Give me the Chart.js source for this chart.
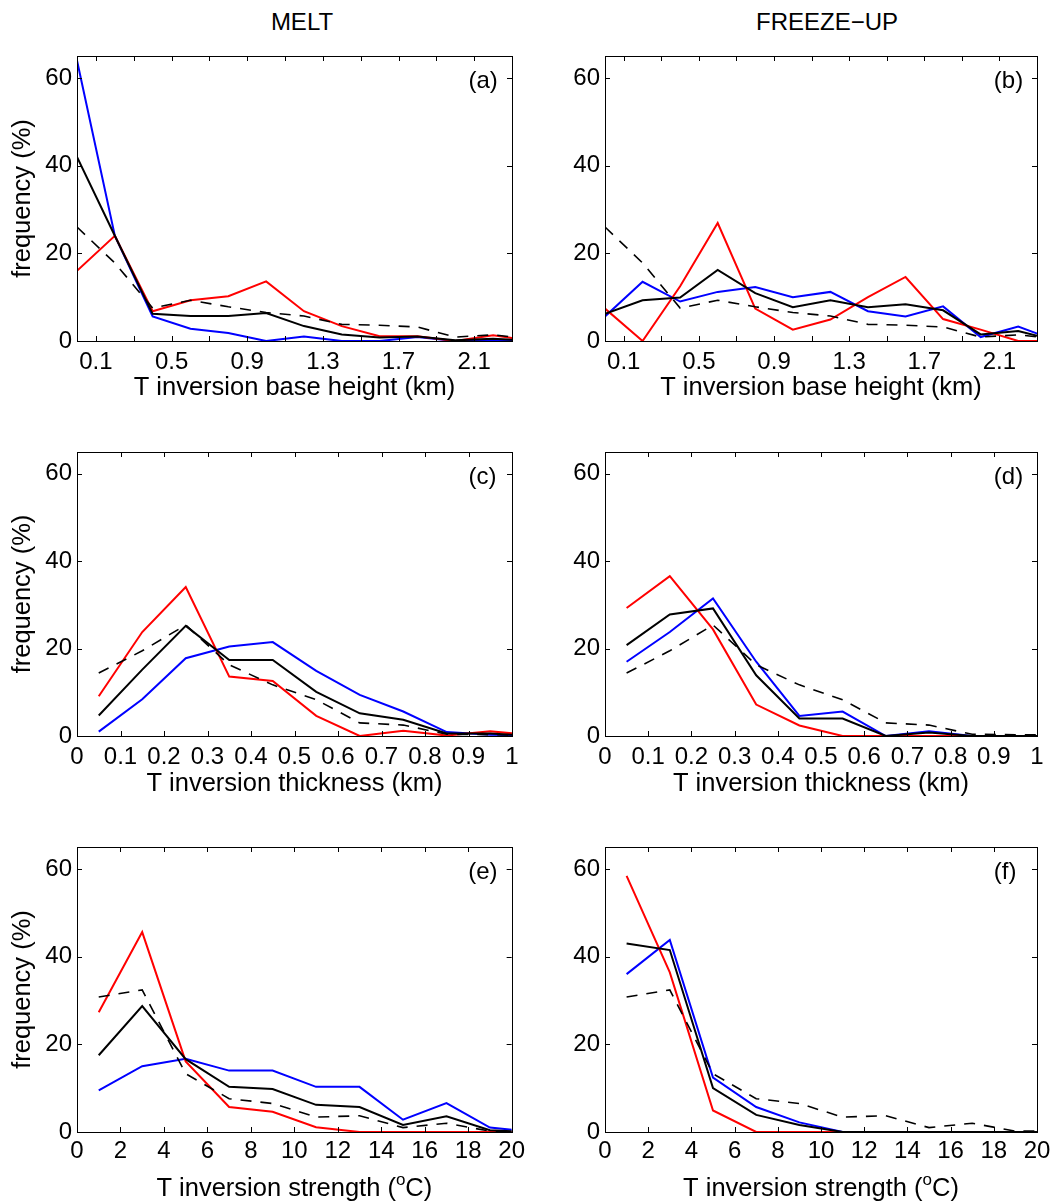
<!DOCTYPE html>
<html><head><meta charset="utf-8">
<script src="https://cdn.jsdelivr.net/npm/chart.js@4/dist/chart.umd.min.js"></script>
<style>
body{margin:0;background:#fff;width:1064px;height:1203px;position:relative;overflow:hidden;font-family:"Liberation Sans",Arial,sans-serif}
canvas{position:absolute}
.ttl{position:absolute;top:8px;height:28px;line-height:28px;font-size:24px;text-align:center;width:300px;color:#000}
</style></head>
<body>
<div class="ttl" style="left:152px">MELT</div>
<div class="ttl" style="left:677px">FREEZE−UP</div>
<canvas id="ca" width="530" height="420" style="left:0;top:0"></canvas>
<canvas id="cb" width="534" height="420" style="left:530px;top:0"></canvas>
<canvas id="cc" width="530" height="400" style="left:0;top:420px"></canvas>
<canvas id="cd" width="534" height="400" style="left:530px;top:420px"></canvas>
<canvas id="ce" width="530" height="383" style="left:0;top:820px"></canvas>
<canvas id="cf" width="534" height="383" style="left:530px;top:820px"></canvas>
<script>
// ---- bin centres ----
const heightX   = [0, 0.2, 0.4, 0.6, 0.8, 1.0, 1.2, 1.4, 1.6, 1.8, 2.0, 2.2, 2.4];
const thickX    = [0.05, 0.15, 0.25, 0.35, 0.45, 0.55, 0.65, 0.75, 0.85, 0.95, 1.05];
const strengthX = [1, 3, 5, 7, 9, 11, 13, 15, 17, 19, 21];

// ---- tick values / labels ----
const freqTicks      = [0, 20, 40, 60];
const heightTicks    = [0.1, 0.3, 0.5, 0.7, 0.9, 1.1, 1.3, 1.5, 1.7, 1.9, 2.1];
const heightLabels   = ['0.1', '', '0.5', '', '0.9', '', '1.3', '', '1.7', '', '2.1'];
const thickTicks     = [0, 0.1, 0.2, 0.3, 0.4, 0.5, 0.6, 0.7, 0.8, 0.9, 1];
const thickLabels    = ['0', '0.1', '0.2', '0.3', '0.4', '0.5', '0.6', '0.7', '0.8', '0.9', '1'];
const strengthTicks  = [0, 2, 4, 6, 8, 10, 12, 14, 16, 18, 20];
const strengthLabels = ['0', '2', '4', '6', '8', '10', '12', '14', '16', '18', '20'];

// ---- (a) melt, base height ----
const meltHeightBlue  = [64, 24, 5.6, 2.8, 1.8, 0, 1.0, 0, 0, 0.9, 0, 0.3, 0.1];
const meltHeightRed   = [16, 24, 6.8, 9.3, 10.2, 13.6, 6.8, 3.4, 1.1, 1.1, 0, 1.3, 0.1];
const meltHeightBlack = [42, 24, 6.2, 5.7, 5.7, 6.4, 3.4, 1.5, 0.8, 1.0, 0.15, 0.5, 0.1];
// ---- (b) freeze-up, base height ----
const freezeHeightBlue  = [5.6, 13.5, 9.0, 11.2, 12.3, 10.0, 11.2, 6.8, 5.6, 7.9, 0.9, 3.3, 0.1];
const freezeHeightRed   = [7.4, 0, 12.5, 26.9, 7.4, 2.6, 4.9, 10, 14.6, 5.0, 2.6, 0, 0];
const freezeHeightBlack = [6.2, 9.3, 9.9, 16.2, 10.9, 7.7, 9.3, 7.7, 8.4, 7.0, 1.5, 2.3, 0.1];
const allHeightDashed   = [26, 17.8, 7.5, 9.3, 7.8, 6.5, 5.7, 3.8, 3.6, 3.2, 0.9, 1.4, 0.5];
// ---- (c) melt, thickness ----
const meltThickBlue  = [1.0, 8.4, 17.8, 20.5, 21.5, 14.9, 9.4, 5.6, 0.9, 0.3, 0.1];
const meltThickRed   = [9.1, 23.8, 34.1, 13.6, 12.6, 4.6, 0, 1.2, 0.1, 1.1, 0.1];
const meltThickBlack = [4.7, 15.2, 25.2, 17.4, 17.4, 10.1, 5.2, 3.7, 0.6, 0.6, 0];
// ---- (d) freeze-up, thickness ----
const freezeThickBlue  = [17.0, 23.8, 31.5, 17.0, 4.6, 5.6, 0, 1.1, 0, 0, 0];
const freezeThickRed   = [29.3, 36.6, 24.4, 7.2, 2.4, 0, 0, 0, 0, 0, 0];
const freezeThickBlack = [20.8, 27.8, 29.2, 13.9, 4.0, 4.0, 0, 0.8, 0, 0, 0];
const allThickDashed   = [14.4, 19.5, 25.4, 16.3, 11.7, 8.3, 3.0, 2.5, 0.4, 0.3, 0.2];
// ---- (e) melt, strength ----
const meltStrBlue  = [9.5, 15.0, 16.7, 14.0, 14.0, 10.3, 10.3, 2.8, 6.6, 1.0, 0];
const meltStrRed   = [27.3, 45.6, 16.1, 5.7, 4.6, 1.1, 0, 0, 0, 0, 0];
const meltStrBlack = [17.5, 28.7, 16.6, 10.3, 9.8, 6.2, 5.7, 1.6, 3.6, 0.4, 0];
// ---- (f) freeze-up, strength ----
const freezeStrBlue  = [36.0, 43.8, 12.4, 5.7, 2.2, 0, 0, 0, 0, 0, 0];
const freezeStrRed   = [58.4, 36.4, 4.9, 0, 0, 0, 0, 0, 0, 0, 0];
const freezeStrBlack = [43.0, 41.5, 10.0, 3.9, 1.6, 0, 0, 0, 0, 0, 0];
const allStrDashed   = [30.8, 32.4, 13.3, 7.6, 6.5, 3.4, 3.7, 1.0, 2.0, 0.2, 0.2];

const FONT = '"Liberation Sans", Arial, sans-serif';
const TITLE_SIZE = 25.5;

const frameTicks = {
  id: 'frameTicks',
  afterDraw(chart, args, opts) {
    const {ctx, chartArea: a, scales} = chart;
    ctx.save();
    ctx.strokeStyle = '#000';
    ctx.lineWidth = 1;
    const L = 5;
    ctx.beginPath();
    scales.x.ticks.forEach(t => {
      const px = Math.round(scales.x.getPixelForValue(t.value)) + 0.5;
      ctx.moveTo(px, a.bottom); ctx.lineTo(px, a.bottom - L);
      ctx.moveTo(px, a.top); ctx.lineTo(px, a.top + L);
    });
    scales.y.ticks.forEach(t => {
      const py = Math.round(scales.y.getPixelForValue(t.value)) + 0.5;
      ctx.moveTo(a.left, py); ctx.lineTo(a.left + L, py);
      ctx.moveTo(a.right, py); ctx.lineTo(a.right - L, py);
    });
    ctx.stroke();
    ctx.strokeRect(Math.round(a.left) + 0.5, Math.round(a.top) + 0.5,
                   Math.round(a.right - a.left), Math.round(a.bottom - a.top));
    ctx.fillStyle = '#000';
    ctx.font = '24px ' + FONT;
    ctx.textAlign = 'left';
    ctx.textBaseline = 'middle';
    ctx.fillText(opts.label, a.left + 0.9 * (a.right - a.left), a.top + 25);
    // x-axis title with superscript part, if requested
    if (opts.supTitle) {
      const [pre, sup, post] = opts.supTitle;
      const big = TITLE_SIZE + 'px ' + FONT, small = Math.round(TITLE_SIZE * 0.68) + 'px ' + FONT;
      ctx.textBaseline = 'alphabetic';
      ctx.font = big; const w1 = ctx.measureText(pre).width, w3 = ctx.measureText(post).width;
      ctx.font = small; const w2 = ctx.measureText(sup).width;
      const total = w1 + w2 + w3;
      let x = (a.left + a.right) / 2 - total / 2;
      const base = opts.supBaseline;
      ctx.font = big; ctx.fillText(pre, x, base); x += w1;
      ctx.font = small; ctx.fillText(sup, x, base - TITLE_SIZE * 0.42); x += w2;
      ctx.font = big; ctx.fillText(post, x, base);
    }
    ctx.restore();
  }
};

function pts(xs, ys) { return xs.map((x, i) => ({x: x, y: ys[i]})); }

function makeChart(id, cfg) {
  const ds = [
    {data: pts(cfg.xs, cfg.dashed), borderColor: '#000', borderWidth: 1.6, borderDash: [11, 9]},
    {data: pts(cfg.xs, cfg.black), borderColor: '#000', borderWidth: 2},
    {data: pts(cfg.xs, cfg.red), borderColor: '#ff0000', borderWidth: 2},
    {data: pts(cfg.xs, cfg.blue), borderColor: '#0000ff', borderWidth: 2}
  ].map(d => Object.assign(d, {pointRadius: 0, fill: false, tension: 0, borderJoinStyle: 'miter'}));
  return new Chart(document.getElementById(id), {
    type: 'line',
    data: {datasets: ds},
    plugins: [frameTicks],
    options: {
      responsive: false, animation: false, events: [],
      layout: {padding: {top: cfg.padT, right: cfg.padR, bottom: 0, left: 0}},
      plugins: {legend: {display: false}, tooltip: {enabled: false},
                frameTicks: {label: cfg.label, supTitle: cfg.supTitle, supBaseline: cfg.supBaseline}},
      scales: {
        x: {
          type: 'linear', min: cfg.xmin, max: cfg.xmax,
          afterBuildTicks: s => { s.ticks = cfg.ticks.map(v => ({value: v})); },
          afterFit: s => { s.height = cfg.xh; },
          grid: {display: false, drawTicks: false},
          border: {display: false},
          ticks: {autoSkip: false, maxRotation: 0, padding: cfg.tickPad, color: '#000',
                  font: {family: FONT, size: 24},
                  callback: (v, i) => cfg.labels[i]},
          title: {display: !!cfg.xtitle, text: cfg.xtitle || '', color: '#000',
                  font: {family: FONT, size: TITLE_SIZE}, padding: {top: 0, bottom: cfg.titlePad}}
        },
        y: {
          type: 'linear', min: 0, max: 65,
          afterBuildTicks: s => { s.ticks = freqTicks.map(v => ({value: v})); },
          afterFit: s => { s.width = cfg.yw; },
          grid: {display: false, drawTicks: false},
          border: {display: false},
          ticks: {padding: 5, color: '#000', font: {family: FONT, size: 24}},
          title: {display: cfg.ytitle, text: 'frequency (%)', color: '#000',
                  font: {family: FONT, size: TITLE_SIZE}, padding: {top: 8, bottom: 0}}
        }
      }
    }
  });
}

const row1 = {xs: heightX, xmin: 0, xmax: 2.3, ticks: heightTicks, labels: heightLabels,
  xtitle: 'T inversion base height (km)', padT: 56, xh: 79, tickPad: 7, titlePad: 16.7, dashed: allHeightDashed};
const row2 = {xs: thickX, xmin: 0, xmax: 1, ticks: thickTicks, labels: thickLabels,
  xtitle: 'T inversion thickness (km)', padT: 32, xh: 84, tickPad: 7, titlePad: 20.7, dashed: allThickDashed};
const row3 = {xs: strengthX, xmin: 0, xmax: 20, ticks: strengthTicks, labels: strengthLabels,
  xtitle: null, supTitle: ['T inversion strength (', 'o', 'C)'], supBaseline: 376,
  padT: 27, xh: 71, tickPad: 5, titlePad: 0, dashed: allStrDashed};
const leftCol = {yw: 77, padR: 18, ytitle: true};
const rightCol = {yw: 75, padR: 27, ytitle: false};

makeChart('ca', Object.assign({}, row1, leftCol, {label: '(a)', blue: meltHeightBlue, red: meltHeightRed, black: meltHeightBlack}));
makeChart('cb', Object.assign({}, row1, rightCol, {label: '(b)', blue: freezeHeightBlue, red: freezeHeightRed, black: freezeHeightBlack}));
makeChart('cc', Object.assign({}, row2, leftCol, {label: '(c)', blue: meltThickBlue, red: meltThickRed, black: meltThickBlack}));
makeChart('cd', Object.assign({}, row2, rightCol, {label: '(d)', blue: freezeThickBlue, red: freezeThickRed, black: freezeThickBlack}));
makeChart('ce', Object.assign({}, row3, leftCol, {label: '(e)', blue: meltStrBlue, red: meltStrRed, black: meltStrBlack}));
makeChart('cf', Object.assign({}, row3, rightCol, {label: '(f)', blue: freezeStrBlue, red: freezeStrRed, black: freezeStrBlack}));
</script>
</body></html>
